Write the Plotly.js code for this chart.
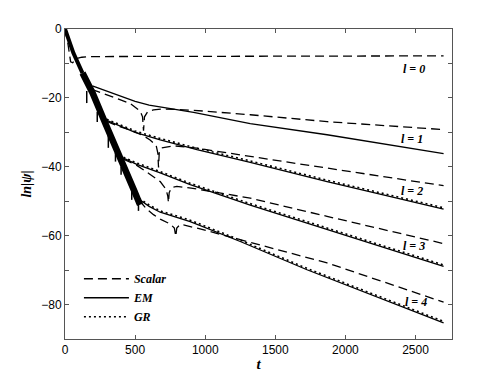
<!DOCTYPE html>
<html>
<head>
<meta charset="utf-8">
<script src="https://cdn.plot.ly/plotly-3.0.1.min.js"></script>
<style>
  html, body { margin: 0; padding: 0; background: #fff; }
  #chart { width: 498px; height: 382px; }
</style>
</head>
<body>
<div id="chart"></div>
<script>
// early ringing band (all curves overlap here)
const ringT = [0, 60, 125, 196, 292, 399, 494, 535];
const ringY = [0, -7, -12.8, -18.5, -27.8, -37.5, -47, -51];
const spikeT = [155, 230, 309, 360, 400, 476, 524];
const spikeTop = [-18, -24, -31, -36, -40, -46, -49];
const spikeBottom = [-21.5, -27, -34.5, -38.5, -42.3, -49.6, -52.8];

// l = 0, scalar only
const s0T = [0, 20, 40, 55, 80, 120, 170, 2700];
const s0Y = [0, -4, -9.5, -9.8, -8.6, -8.2, -8.0, -7.8];

// l = 1
const s1T = [190, 300, 400, 464, 536, 553, 560, 567, 590, 631, 700, 917, 1321, 1869, 2700];
const s1Y = [-17.5, -19.1, -20.6, -21.6, -23.8, -25.5, -29.5, -25.5, -24, -23.5, -23.2, -23.6, -24.9, -26.9, -29.2];
const e1T = [195, 300, 400, 500, 600, 728, 917, 1321, 1869, 2700];
const e1Y = [-16.5, -18.0, -19.6, -21.0, -22.1, -23.0, -24.2, -27.5, -30.7, -36.2];

// l = 2
const s2T = [298, 380, 464, 560, 607, 650, 662, 667, 672, 690, 774, 941, 1321, 1869, 2700];
const s2Y = [-26.8, -28.2, -29.3, -31, -32.2, -33.8, -36, -40.2, -36, -34.5, -33.9, -34.6, -37, -40.4, -45.5];
const e2T = [298, 400, 500, 679, 941, 1321, 1869, 2700];
const e2Y = [-26.5, -28.3, -30.0, -32.2, -35.0, -38.7, -44.3, -52.3];
const g2Y = [-26.2, -27.9, -29.6, -31.8, -34.6, -38.3, -43.9, -51.9];

// l = 3
const s3T = [417, 512, 600, 679, 720, 733, 738, 743, 760, 798, 900, 1179, 1321, 1869, 2700];
const s3Y = [-37.8, -39.6, -42, -44.3, -46.5, -48.5, -50.4, -47.5, -46, -45.7, -46.2, -48.1, -49.1, -54.4, -62.3];
const e3T = [417, 512, 679, 893, 1321, 1869, 2700];
const e3Y = [-37.5, -39.3, -41.8, -45.2, -51.1, -58.1, -68.9];
const g3Y = [-37.2, -38.9, -41.4, -44.8, -50.7, -57.7, -68.5];

// l = 4
const s4T = [530, 583, 631, 679, 750, 780, 790, 797, 820, 845, 950, 1202, 1869, 2700];
const s4Y = [-49.8, -52.3, -53.9, -55.2, -56.6, -57.8, -60.2, -57.8, -56.8, -56.9, -57.9, -60.7, -67.9, -79.3];
const e4T = [530, 600, 679, 893, 1250, 1726, 2700];
const e4Y = [-49.5, -51.5, -53.2, -55.9, -61.7, -69.9, -85.3];
const g4Y = [-49.2, -51.1, -52.8, -55.5, -61.3, -69.5, -84.9];

// labels
const lLabels = ["l = 0", "l = 1", "l = 2", "l = 3", "l = 4"];
const lLabelT = [2486, 2476, 2476, 2486, 2500];
const lLabelY = [-11.7, -32, -46.9, -63.1, -79.2];

const xTicks = [0, 500, 1000, 1500, 2000, 2500];
const yTicks = [-90, -80, -70, -60, -50, -40, -30, -20, -10, 0];
const yTickText = ["", "\u221280", "", "\u221260", "", "\u221240", "", "\u221220", "", "0"];

const DASH = "9px,5px";
const DOT = "2px,3px";

function curve(name, x, y, dash, legend, rank) {
  return {
    x: x, y: y, type: "scatter", mode: "lines", name: name,
    line: { color: "#000", width: dash === DOT ? 1.6 : 1.3, dash: dash },
    showlegend: !!legend, legendrank: rank || 1000, hoverinfo: "skip"
  };
}

// spike segments separated by nulls
const spX = [], spY = [];
spikeT.forEach((t, i) => {
  spX.push(t, t, null);
  spY.push(spikeTop[i], spikeBottom[i], null);
});

// band is thinner near t = 0
const traces = [
  { x: ringT.slice(0, 3), y: ringY.slice(0, 3), type: "scatter", mode: "lines", showlegend: false,
    line: { color: "#000", width: 4 }, hoverinfo: "skip" },
  { x: ringT.slice(2), y: ringY.slice(2), type: "scatter", mode: "lines", showlegend: false,
    line: { color: "#000", width: 6.5 }, hoverinfo: "skip" },
  { x: spX, y: spY, type: "scatter", mode: "lines", showlegend: false,
    line: { color: "#000", width: 1.5 }, hoverinfo: "skip" },
  curve("Scalar", s0T, s0Y, DASH, true, 1),
  curve("Scalar", s1T, s1Y, DASH),
  curve("Scalar", s2T, s2Y, DASH),
  curve("Scalar", s3T, s3Y, DASH),
  curve("Scalar", s4T, s4Y, DASH),
  curve("EM", e1T, e1Y, "solid", true, 2),
  curve("EM", e2T, e2Y, "solid"),
  curve("EM", e3T, e3Y, "solid"),
  curve("EM", e4T, e4Y, "solid"),
  curve("GR", e2T, g2Y, DOT, true, 3),
  curve("GR", e3T, g3Y, DOT),
  curve("GR", e4T, g4Y, DOT)
];

const serifBI = { family: "Liberation Serif, Times New Roman, serif", weight: "bold", style: "italic", color: "#000" };

const layout = {
  width: 498, height: 382,
  margin: { l: 65, r: 46, t: 29, b: 43 },
  paper_bgcolor: "#fff", plot_bgcolor: "#fff",
  font: { family: "Liberation Sans, Arial, sans-serif", size: 12, color: "#000" },
  xaxis: {
    range: [0, 2760], tickvals: xTicks, ticks: "inside", ticklen: 4, tickcolor: "#555",
    showline: true, linecolor: "#555", linewidth: 1, mirror: "ticks",
    showgrid: false, zeroline: false,
    title: { text: "t", font: Object.assign({ size: 15 }, serifBI), standoff: 2 }
  },
  yaxis: {
    range: [-90, 0], tickvals: yTicks, ticktext: yTickText, ticks: "inside", ticklen: 4, tickcolor: "#555",
    showline: true, linecolor: "#555", linewidth: 1, mirror: "ticks",
    showgrid: false, zeroline: false,
    title: { text: "ln|\u03c8|", font: Object.assign({ size: 14 }, serifBI), standoff: 6 }
  },
  showlegend: true,
  legend: {
    x: 0.036, y: 0.025, xanchor: "left", yanchor: "bottom",
    bgcolor: "rgba(0,0,0,0)", tracegroupgap: 0, itemwidth: 45,
    font: Object.assign({ size: 12 }, serifBI)
  },
  annotations: lLabels.map((txt, i) => ({
    x: lLabelT[i], y: lLabelY[i], xref: "x", yref: "y", text: txt, showarrow: false,
    font: Object.assign({ size: 12 }, serifBI)
  }))
};

Plotly.newPlot("chart", traces, layout, { displayModeBar: false, staticPlot: true });
</script>
</body>
</html>
